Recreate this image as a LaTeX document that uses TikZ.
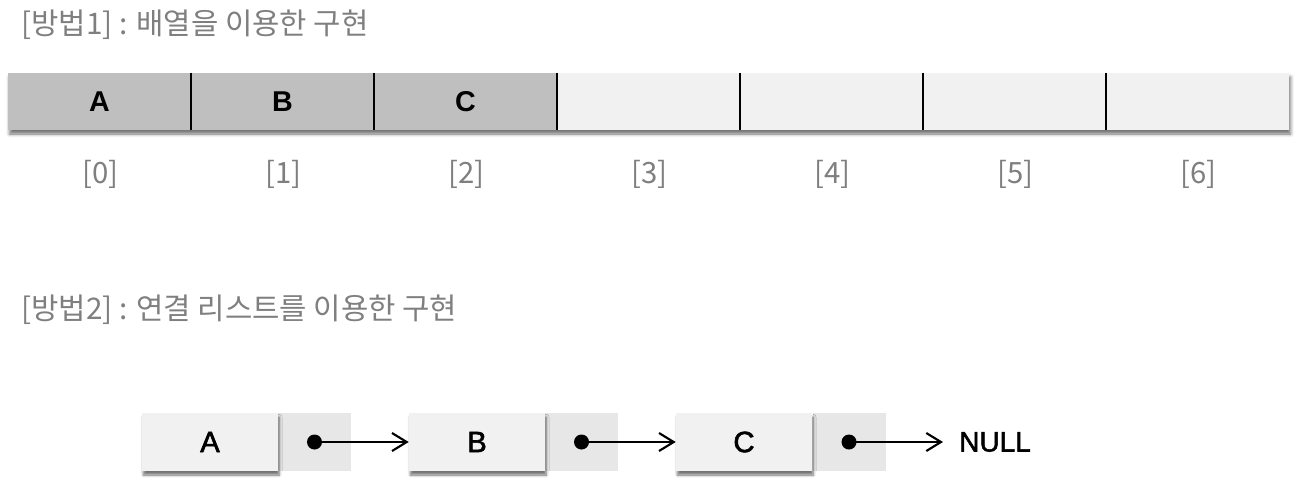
\documentclass[tikz,border=0pt]{standalone}
\usepackage{fontspec}
\setmainfont{Noto Sans CJK KR}
\newfontfamily\lat{Liberation Sans}
\newfontfamily\latmed[FakeBold=2]{Liberation Sans}
\usetikzlibrary{shadows.blur,arrows.meta}
\definecolor{darkcell}{HTML}{BFBFBF}
\definecolor{lightcell}{HTML}{F1F1F1}
\definecolor{ptrcell}{HTML}{E7E7E7}
\definecolor{txtgray}{HTML}{7F7F7F}
\tikzset{
  title/.style={anchor=west,inner sep=0pt,text=txtgray,font=\fontsize{22.3}{26}\selectfont},
  idx/.style={inner sep=0pt,text=txtgray,font=\fontsize{22}{26}\selectfont},
  cell/.style={inner sep=0pt,minimum width=183*0.75pt,minimum height=57*0.75pt,font=\lat\bfseries\fontsize{21.5}{24}\selectfont},
  fullcell/.style={cell,fill=darkcell},
  emptycell/.style={cell,fill=lightcell},
  arrshadow/.style={fill=lightcell,inner sep=0pt,minimum width=1281*0.75pt,minimum height=57*0.75pt,
     blur shadow={shadow xshift=1.2pt,shadow yshift=-3pt,shadow blur radius=2.5pt,shadow opacity=55}},
  divider/.style={line width=1.5pt,black},
  databox/.style={fill=lightcell,inner sep=0pt,minimum width=136*0.75pt,minimum height=58*0.75pt,
     font=\latmed\fontsize{22}{24}\selectfont,
     blur shadow={shadow xshift=1pt,shadow yshift=-3pt,shadow blur radius=2pt,shadow opacity=55}},
  ptrbox/.style={fill=ptrcell,inner sep=0pt,minimum width=73*0.75pt,minimum height=58*0.75pt},
  link/.style={line width=1.6pt,-{Straight Barb[length=11pt,width=13.5pt,line width=1.6pt]}},
  dot/.style={fill=black}
}
\begin{document}
\begin{tikzpicture}[x=0.75pt,y=-0.75pt]
\useasboundingbox (0,0) rectangle (1296,490);
% titles
\node[title] (t1) at (21,25) {[방법1] : 배열을 이용한 구현};
\node[title] (t2) at (21,310) {[방법2] : 연결 리스트를 이용한 구현};
% array
\node[arrshadow] (arr) at (648.5,101.5) {};
\node[fullcell] (c0) at (99.5,101.5) {A};
\node[fullcell] (c1) at (282.5,101.5) {B};
\node[fullcell] (c2) at (465.5,101.5) {C};
\node[emptycell] (c3) at (648.5,101.5) {};
\node[emptycell] (c4) at (831.5,101.5) {};
\node[emptycell] (c5) at (1014.5,101.5) {};
\node[emptycell] (c6) at (1197.5,101.5) {};
\foreach \i in {0,...,5}{\draw[divider] (c\i.north east) -- (c\i.south east);}
\foreach \i in {0,...,6}{\node[idx] (i\i) at (100.5+183*\i,174) {[\i]};}
% linked list
\node[ptrbox] (pA) at (314.5,442) {};
\node[databox] (nA) at (210,442) {A};
\node[ptrbox] (pB) at (581.5,442) {};
\node[databox] (nB) at (477,442) {B};
\node[ptrbox] (pC) at (849,442) {};
\node[databox] (nC) at (744,442) {C};
\node[anchor=west,inner xsep=12pt,inner ysep=0pt,font=\latmed\fontsize{21}{24}\selectfont] (null) at (943,442) {NULL};
\fill[dot] (pA.center) circle[radius=7.5];
\fill[dot] (pB.center) circle[radius=7.5];
\fill[dot] (pC.center) circle[radius=7.5];
\draw[link] (pA.center) -- (nB.west);
\draw[link] (pB.center) -- (nC.west);
\draw[link] (pC.center) -- (null.west);
\end{tikzpicture}
\end{document}
